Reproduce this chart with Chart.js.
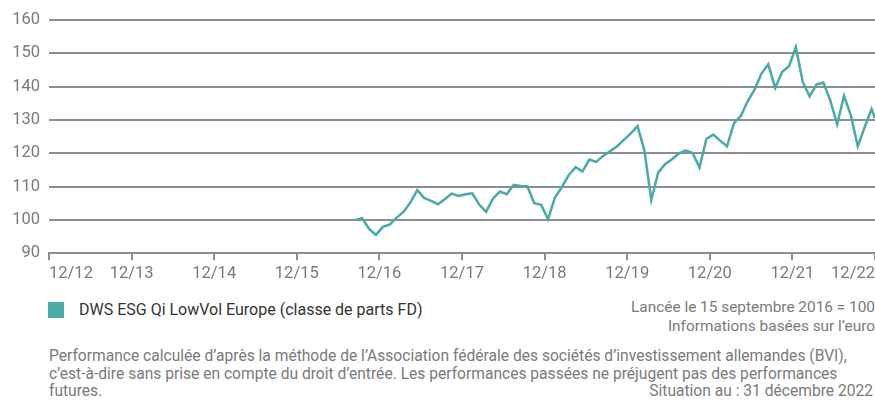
<!DOCTYPE html>
<html>
<head>
<meta charset="utf-8">
<script src="https://cdn.jsdelivr.net/npm/chart.js@4.4.9/dist/chart.umd.min.js"></script>
<style>
  body { margin: 0; background: #fff; font-family: Roboto, "Liberation Sans", sans-serif; }
  #wrap { position: relative; width: 875px; height: 401px; overflow: hidden; }
  #chart-box { position: absolute; left: 0; top: 0; width: 875px; height: 288px; }
  #legend { position: absolute; left: 48px; top: 300px; display: flex; align-items: center; font-size: 16px; color: #333; }
  #legend .box { width: 16px; height: 16px; margin-right: 15px; }
  #info { position: absolute; right: 0; top: 298px; text-align: right; font-size: 15.4px; line-height: 19px; color: #7a7a7a; }
  #note { position: absolute; left: 49px; top: 348px; font-size: 15.6px; line-height: 17.5px; color: #7a7a7a; white-space: nowrap; }
  #asof { position: absolute; right: 2px; top: 383px; font-size: 15.6px; line-height: 17.5px; color: #7a7a7a; }
</style>
</head>
<body>
<div id="wrap">
  <div id="chart-box"><canvas id="myChart"></canvas></div>
  <div id="legend"></div>
  <div id="info">Lancée le 15 septembre 2016 = 100<br>Informations basées sur l’euro</div>
  <div id="note">Performance calculée d’après la méthode de l’Association fédérale des sociétés d’investissement allemandes (BVI),<br>c’est-à-dire sans prise en compte du droit d’entrée. Les performances passées ne préjugent pas des performances<br>futures.</div>
  <div id="asof">Situation au : 31 décembre 2022</div>
</div>
<script>
const fundName = "DWS ESG Qi LowVol Europe (classe de parts FD)";
const yearTicks = ["12/12", "12/13", "12/14", "12/15", "12/16", "12/17", "12/18", "12/19", "12/20", "12/21", "12/22"];
const lastMonth = 120; // months after Dec 2012
const firstMonth = 44.5; // launch, 15 Sep 2016
const fundValues = [
  100.0, 100.5, 97.3, 95.5, 97.9, 98.6, 100.7, 102.4, 105.2, 108.9,
  106.6, 105.7, 104.7, 106.2, 107.9, 107.2, 107.7, 108.0, 104.6, 102.4,
  106.4, 108.5, 107.7, 110.5, 110.2, 110.1, 105.0, 104.5, 100.2, 106.7,
  109.8, 113.4, 115.8, 114.5, 118.1, 117.4, 119.2, 120.6, 122.0, 124.0,
  125.9, 128.2, 120.8, 106.0, 114.2, 116.7, 118.2, 119.9, 120.9, 120.1,
  115.7, 124.3, 125.6, 123.8, 122.1, 129.0, 131.2, 135.6, 139.1, 143.9,
  146.7, 139.6, 144.4, 146.1, 151.9, 141.4, 137.1, 140.6, 141.2, 135.9,
  128.7, 137.2, 131.3, 122.1, 127.8, 133.3, 130.6
];

const gridGrey = "#8e8e8e";
const tickGrey = "#7a7a7a";
const teal = "#4aaaa8";

// small html legend, the built-in one can't space the text like the original
const htmlLegend = {
  id: "htmlLegend",
  afterUpdate(chart) {
    const $legend = document.getElementById("legend");
    $legend.innerHTML = "";
    chart.data.datasets.forEach((ds) => {
      const $box = document.createElement("span");
      $box.className = "box";
      $box.style.background = ds.borderColor;
      const $txt = document.createElement("span");
      $txt.textContent = ds.label;
      $legend.appendChild($box);
      $legend.appendChild($txt);
    });
  },
};

const $canvas = document.getElementById("myChart");

let myChart = new Chart($canvas, {
  type: "line",
  data: {
    datasets: [
      {
        label: fundName,
        data: fundValues.map((v, i) => ({ x: Math.min(firstMonth + i, lastMonth), y: v })),
        borderColor: teal,
        borderWidth: 2.5,
        pointRadius: 0,
        tension: 0,
      },
    ],
  },
  options: {
    animation: false,
    responsive: true,
    maintainAspectRatio: false,
    layout: { padding: { top: 20, right: 0, bottom: 0, left: 0 } },
    plugins: {
      legend: { display: false },
      tooltip: { enabled: false },
    },
    scales: {
      x: {
        type: "linear",
        min: 0,
        max: lastMonth,
        afterFit: (scale) => {
          scale.paddingLeft = 0;
          scale.paddingRight = 0;
        },
        border: { display: true, color: gridGrey, width: 2 },
        grid: { drawOnChartArea: false, drawTicks: true, tickLength: 7, color: gridGrey, lineWidth: 2 },
        ticks: {
          stepSize: 12,
          autoSkip: false,
          maxRotation: 0,
          align: "inner",
          padding: 4,
          color: tickGrey,
          font: { family: "Roboto", size: 16.5 },
          callback: (value) => yearTicks[value / 12],
        },
      },
      y: {
        min: 90,
        max: 160,
        afterFit: (scale) => { scale.width = 49; },
        border: { display: false },
        grid: { drawTicks: false, color: gridGrey, lineWidth: 2 },
        ticks: {
          stepSize: 10,
          padding: 9,
          color: tickGrey,
          font: { family: "Roboto", size: 16.5 },
        },
      },
    },
  },
  plugins: [htmlLegend],
});
</script>
</body>
</html>
